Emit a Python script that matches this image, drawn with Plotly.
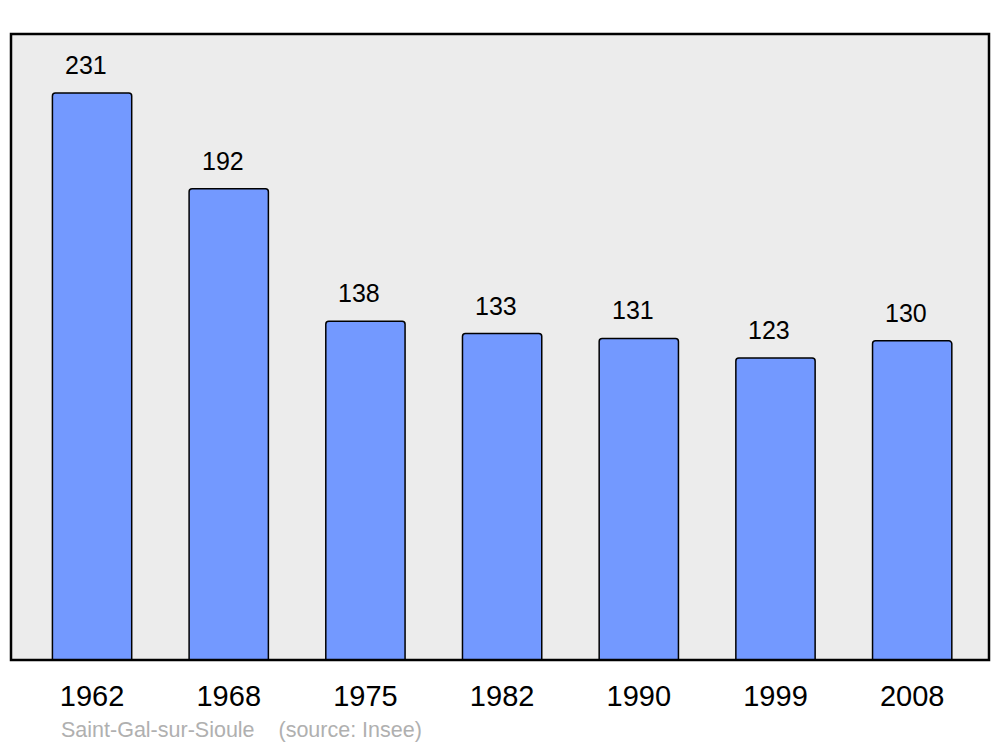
import plotly.graph_objects as go

# Population figures
years = ["1962", "1968", "1975", "1982", "1990", "1999", "2008"]
population = [231, 192, 138, 133, 131, 123, 130]

fig = go.Figure()

fig.add_trace(go.Bar(
    x=years,
    y=population,
    width=0.58,
    marker=dict(color="#7399ff", line=dict(color="black", width=1.5), cornerradius=3),
    hoverinfo="x+y",
))

# value labels above the bars (index positions on the category axis)
for i, val in enumerate(population):
    fig.add_annotation(
        x=i, y=val, text=str(val),
        showarrow=False, yanchor="middle", yshift=28, xshift=-6,
        font=dict(size=25, color="black", family="Liberation Sans, Arial"),
    )

# plot frame
fig.add_shape(
    type="rect", xref="paper", yref="paper",
    x0=0, y0=0, x1=1, y1=1,
    line=dict(color="black", width=2.5),
    layer="above",
)

fig.add_annotation(
    xref="paper", yref="paper", x=0.049, y=-0.112,
    xanchor="left", yanchor="middle",
    text="Saint-Gal-sur-Sioule&nbsp;&nbsp;&nbsp;&nbsp;(source: Insee)",
    showarrow=False,
    font=dict(size=21.5, color="#b0b0b0", family="Liberation Sans, Arial"),
)

# page body has an 8px margin, so the figure is offset by 8px
fig.update_layout(
    width=984,
    height=739,
    margin=dict(l=3, r=3, t=26, b=87),
    paper_bgcolor="white",
    plot_bgcolor="#ececec",
    showlegend=False,
    font=dict(family="Liberation Sans, Arial", color="black"),
    xaxis=dict(
        type="category",
        range=[-0.593, 6.562],
        showgrid=False, zeroline=False,
        tickfont=dict(size=29),
        ticklabelstandoff=16,
        fixedrange=True,
    ),
    yaxis=dict(
        range=[0, 255],
        visible=False,
        showgrid=False, zeroline=False,
        fixedrange=True,
    ),
)

fig.write_html("out.html")
